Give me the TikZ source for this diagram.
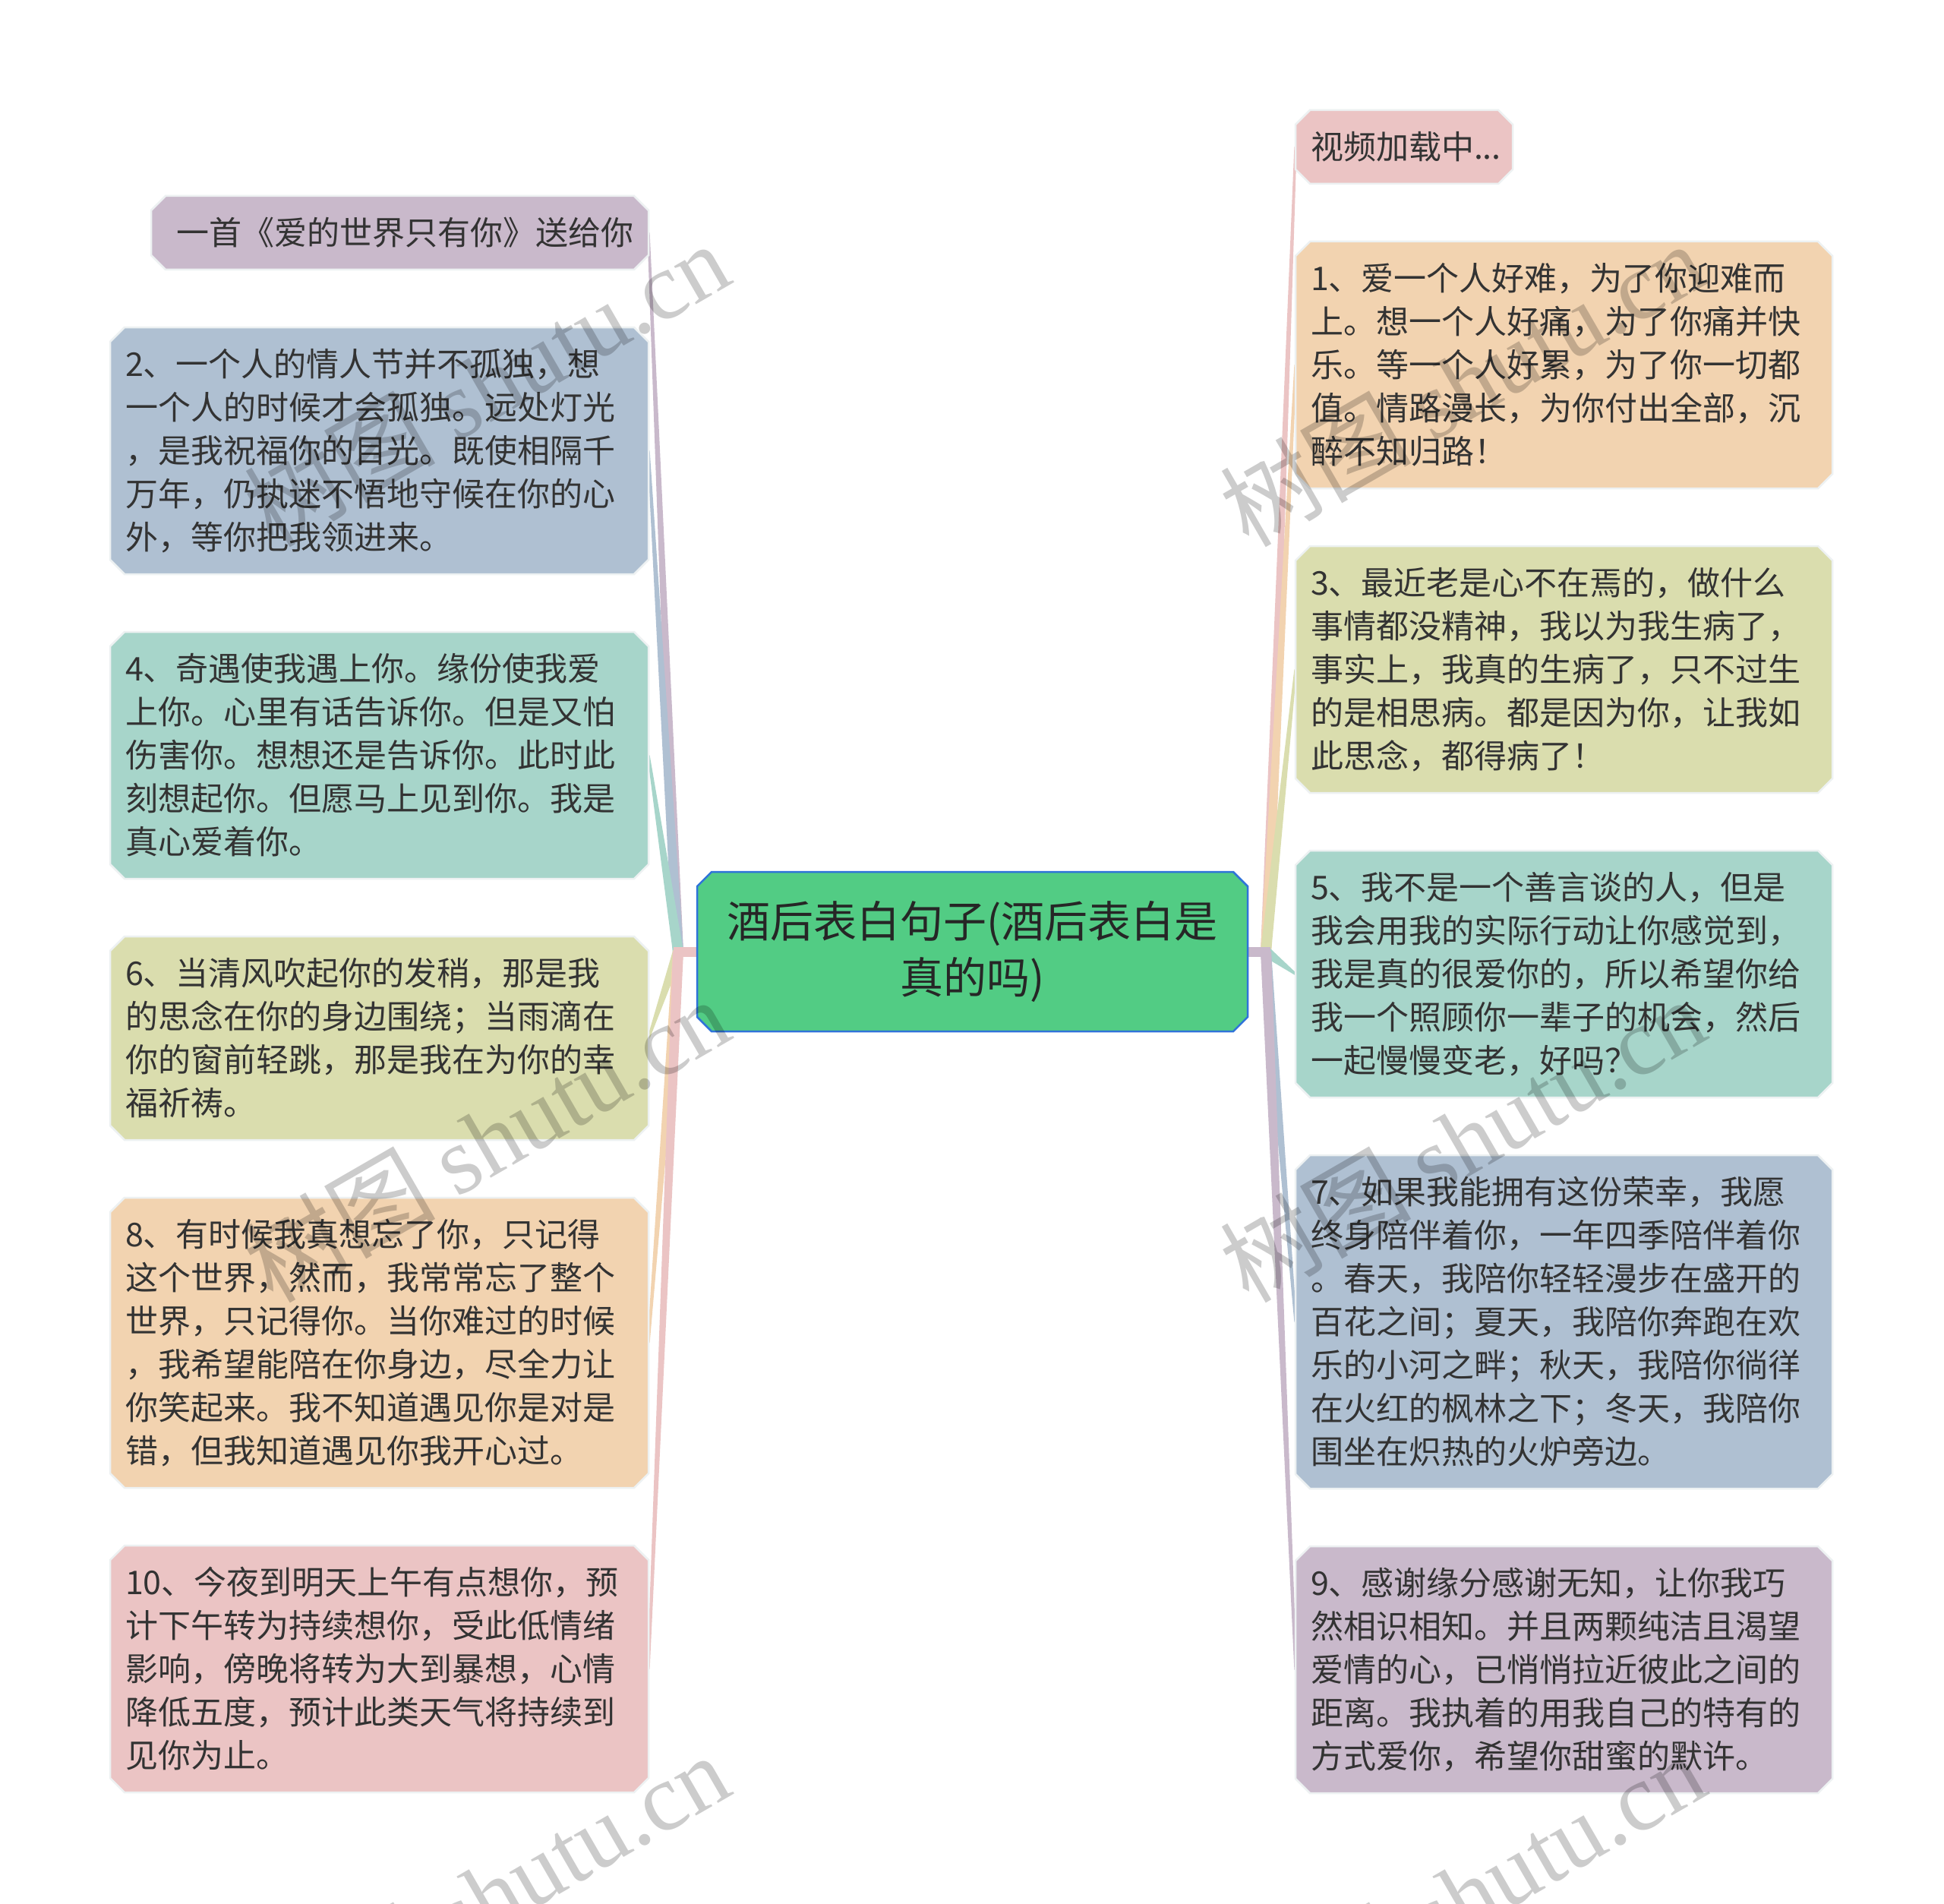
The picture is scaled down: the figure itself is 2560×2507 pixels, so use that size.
\documentclass[tikz,border=0pt]{standalone}
\usepackage{fontspec}
\setmainfont{Noto Sans CJK SC}
\newfontfamily\wmserif{Liberation Serif}
\usetikzlibrary{calc}
\definecolor{cpurple}{HTML}{C9B9CB}
\definecolor{cblue}{HTML}{AFC0D2}
\definecolor{cteal}{HTML}{A7D5CA}
\definecolor{colive}{HTML}{DADDAE}
\definecolor{cpeach}{HTML}{F2D3B0}
\definecolor{cpink}{HTML}{EBC4C4}
\definecolor{cgreen}{HTML}{52CC84}
\definecolor{cborder}{HTML}{2F73D9}
\definecolor{cedge}{HTML}{EDF1F2}
\definecolor{ctext}{HTML}{333333}
\definecolor{ctitle}{HTML}{262626}
\pgfdeclarelayer{paper}
\pgfdeclarelayer{links}
\pgfdeclarelayer{boxes}
\pgfdeclarelayer{marks}
\pgfsetlayers{paper,links,boxes,main,marks}
\newcommand\chamferbox[3]{%
  \fill[#2, draw=#3, line width=2.5pt]
    ([xshift=19pt]#1.north west) -- ([xshift=-19pt]#1.north east) --
    ([yshift=-19pt]#1.north east) -- ([yshift=19pt]#1.south east) --
    ([xshift=-19pt]#1.south east) -- ([xshift=19pt]#1.south west) --
    ([yshift=19pt]#1.south west) -- ([yshift=-19pt]#1.north west) -- cycle;}
\newcommand\taper[3]{%
  \fill[#3] ($(#1)!7pt!90:(#2)$) -- ($(#2)!1.6pt!-90:(#1)$) --
    ($(#2)!1.6pt!90:(#1)$) -- ($(#1)!7pt!-90:(#2)$) -- cycle;}
\tikzset{
  leaf/.style={rectangle, inner sep=0pt, outer sep=0pt, anchor=north west,
    align=left, text=ctext, font=\fontsize{43}{57}\selectfont},
  lwide/.style={minimum width=709pt, text width=669pt},
  rwide/.style={minimum width=707pt, text width=667pt},
  wmark/.style={text=black, text opacity=0.2, rotate=30, inner sep=0pt,
    font=\fontsize{126}{126}\selectfont},
}
\begin{document}
\begin{tikzpicture}[x=1pt,y=-1pt]
\useasboundingbox (0,0) rectangle (2560,2507);
\begin{pgfonlayer}{paper}
  \fill[white] (0,0) rectangle (2560,2507);
\end{pgfonlayer}

\node[rectangle, inner sep=0pt, outer sep=0pt, minimum width=725pt, minimum height=210pt,
  align=center, text=ctitle, font=\fontsize{57}{74}\selectfont] (root) at (1280.5,1253)
  {酒后表白句子(酒后表白是\\真的吗)};

% left column
\node[leaf, minimum width=655pt, minimum height=97pt, text width=615pt, align=right] (top) at (199,258)
  {一首《爱的世界只有你》送给你};
\node[leaf, lwide, minimum height=325pt] (n2) at (145,431)
  {2、一个人的情人节并不孤独，想\\一个人的时候才会孤独。远处灯光\\，是我祝福你的目光。既使相隔千\\万年，仍执迷不悟地守候在你的心\\外，等你把我领进来。};
\node[leaf, lwide, minimum height=325pt] (n4) at (145,832)
  {4、奇遇使我遇上你。缘份使我爱\\上你。心里有话告诉你。但是又怕\\伤害你。想想还是告诉你。此时此\\刻想起你。但愿马上见到你。我是\\真心爱着你。};
\node[leaf, lwide, minimum height=268pt] (n6) at (145,1233)
  {6、当清风吹起你的发稍，那是我\\的思念在你的身边围绕；当雨滴在\\你的窗前轻跳，那是我在为你的幸\\福祈祷。};
\node[leaf, lwide, minimum height=382pt] (n8) at (145,1577)
  {8、有时候我真想忘了你，只记得\\这个世界，然而，我常常忘了整个\\世界，只记得你。当你难过的时候\\，我希望能陪在你身边，尽全力让\\你笑起来。我不知道遇见你是对是\\错，但我知道遇见你我开心过。};
\node[leaf, lwide, minimum height=325pt] (n10) at (145,2035)
  {10、今夜到明天上午有点想你，预\\计下午转为持续想你，受此低情绪\\影响，傍晚将转为大到暴想，心情\\降低五度，预计此类天气将持续到\\见你为止。};

% right column
\node[leaf, minimum width=286pt, minimum height=97pt, text width=246pt] (vid) at (1706,145)
  {视频加载中...};
\node[leaf, rwide, minimum height=325pt] (n1) at (1706,318)
  {1、爱一个人好难，为了你迎难而\\上。想一个人好痛，为了你痛并快\\乐。等一个人好累，为了你一切都\\值。情路漫长，为你付出全部，沉\\醉不知归路！};
\node[leaf, rwide, minimum height=325pt] (n3) at (1706,719)
  {3、最近老是心不在焉的，做什么\\事情都没精神，我以为我生病了，\\事实上，我真的生病了，只不过生\\的是相思病。都是因为你，让我如\\此思念，都得病了！};
\node[leaf, rwide, minimum height=325pt] (n5) at (1706,1120)
  {5、我不是一个善言谈的人，但是\\我会用我的实际行动让你感觉到，\\我是真的很爱你的，所以希望你给\\我一个照顾你一辈子的机会，然后\\一起慢慢变老，好吗？};
\node[leaf, rwide, minimum height=439pt] (n7) at (1706,1521)
  {7、如果我能拥有这份荣幸，我愿\\终身陪伴着你，一年四季陪伴着你\\。春天，我陪你轻轻漫步在盛开的\\百花之间；夏天，我陪你奔跑在欢\\乐的小河之畔；秋天，我陪你徜徉\\在火红的枫林之下；冬天，我陪你\\围坐在炽热的火炉旁边。};
\node[leaf, rwide, minimum height=325pt] (n9) at (1706,2036)
  {9、感谢缘分感谢无知，让你我巧\\然相识相知。并且两颗纯洁且渴望\\爱情的心，已悄悄拉近彼此之间的\\距离。我执着的用我自己的特有的\\方式爱你，希望你甜蜜的默许。};

\coordinate (hl) at (893,1253);
\coordinate (hr) at (1667,1253);

\begin{pgfonlayer}{boxes}
  \chamferbox{root}{cgreen}{cborder}
  \chamferbox{top}{cpurple}{cedge}
  \chamferbox{n2}{cblue}{cedge}
  \chamferbox{n4}{cteal}{cedge}
  \chamferbox{n6}{colive}{cedge}
  \chamferbox{n8}{cpeach}{cedge}
  \chamferbox{n10}{cpink}{cedge}
  \chamferbox{vid}{cpink}{cedge}
  \chamferbox{n1}{cpeach}{cedge}
  \chamferbox{n3}{colive}{cedge}
  \chamferbox{n5}{cteal}{cedge}
  \chamferbox{n7}{cblue}{cedge}
  \chamferbox{n9}{cpurple}{cedge}
\end{pgfonlayer}

\begin{pgfonlayer}{links}
  \taper{hl}{top.east}{cpurple}
  \taper{hl}{n2.east}{cblue}
  \taper{hl}{n4.east}{cteal}
  \taper{hl}{n6.east}{colive}
  \taper{hl}{n8.east}{cpeach}
  \taper{hl}{n10.east}{cpink}
  \taper{hr}{vid.west}{cpink}
  \taper{hr}{n1.west}{cpeach}
  \taper{hr}{n3.west}{colive}
  \taper{hr}{n5.west}{cteal}
  \taper{hr}{n7.west}{cblue}
  \taper{hr}{n9.west}{cpurple}
  \draw[cpink, line width=13pt] (root.west) -- ([xshift=-6pt]hl);
  \draw[cpurple, line width=13pt] (root.east) -- ([xshift=6pt]hr);
\end{pgfonlayer}

\begin{pgfonlayer}{marks}
  \node[wmark] (wm1) at (640,505) {树图 {\wmserif shutu.cn}};
  \node[wmark] (wm2) at (1925,505) {树图 {\wmserif shutu.cn}};
  \node[wmark] (wm3) at (640,1500) {树图 {\wmserif shutu.cn}};
  \node[wmark] (wm4) at (1925,1500) {树图 {\wmserif shutu.cn}};
  \node[wmark] (wm5) at (640,2495) {树图 {\wmserif shutu.cn}};
  \node[wmark] (wm6) at (1925,2495) {树图 {\wmserif shutu.cn}};
\end{pgfonlayer}
\end{tikzpicture}
\end{document}
